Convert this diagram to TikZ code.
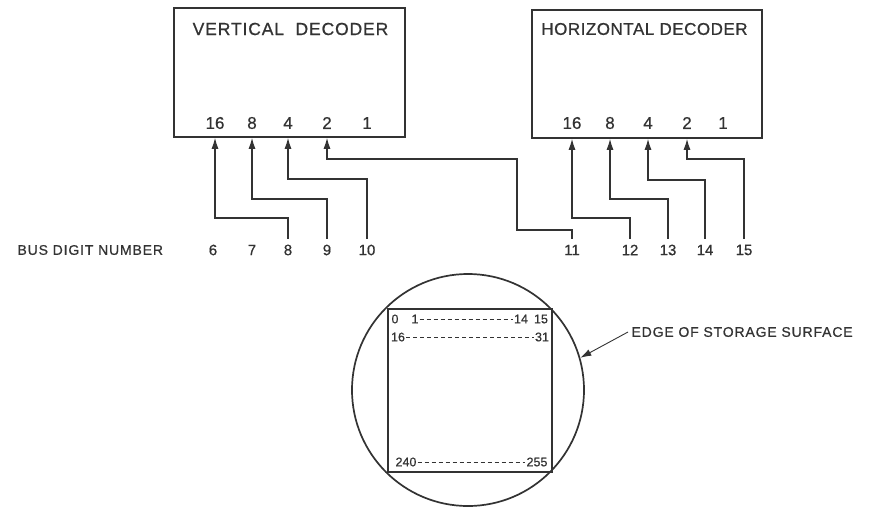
\documentclass[tikz,border=0pt]{standalone}
\usepackage{fontspec}
\setmainfont{Liberation Sans}[FakeBold=0.7]
\usetikzlibrary{arrows.meta}
\definecolor{ink}{gray}{0.2}
\tikzset{
  decbox/.style={draw=ink, line width=1.7pt, inner sep=0pt},
  title/.style={text=ink, font=\fontsize{17.5}{17.5}\selectfont\addfontfeature{LetterSpace=5}},
  digit/.style={text=ink, font=\fontsize{17}{17}\selectfont},
  busnum/.style={text=ink, inner sep=0pt, outer sep=6pt, font=\fontsize{15}{15}\selectfont},
  wire/.style={draw=ink, line width=1.1pt, -{Latex[length=11pt,width=7pt]}},
  cell/.style={text=ink, inner sep=1pt, font=\fontsize{12.5}{12.5}\selectfont},
  dots/.style={draw=ink, line width=0.9pt, dash pattern=on 4pt off 3pt},
  caption/.style={text=ink, font=\fontsize{14}{14}\selectfont\addfontfeature{LetterSpace=6}}
}
\begin{document}
\begin{tikzpicture}[x=1pt, y=-1pt]
  \useasboundingbox (0,0) rectangle (881,507);
  % decoders
  \node[decbox, minimum width=231pt, minimum height=129pt] (vdec) at (289.5,72.5) {};
  \node[title] (vtitle) at (290.5,29) {VERTICAL\ \ DECODER};
  \node[decbox, minimum width=230pt, minimum height=128pt] (hdec) at (647,74) {};
  \node[title, font=\fontsize{17}{17}\selectfont\addfontfeature{LetterSpace=3}] (htitle) at (644.5,29) {HORIZONTAL\ DECODER};
  \foreach \d/\x in {16/215, 8/252, 4/288, 2/327, 1/367} {
    \node[digit] (vd\d) at (\x,123) {\d};
    \coordinate (v\d) at (vd\d |- vdec.south);
  }
  \foreach \d/\x in {16/572, 8/610, 4/648, 2/687, 1/723} {
    \node[digit] (hd\d) at (\x,123) {\d};
    \coordinate (h\d) at (hd\d |- hdec.south);
  }
  % bus digits
  \node[caption, anchor=west] (buslbl) at (14,250) {BUS DIGIT NUMBER};
  \foreach \b/\x in {6/213, 7/252, 8/288, 9/327, 10/367, 11/572, 12/630, 13/668, 14/705, 15/744} {
    \node[busnum] (b\b) at (\x,250) {\b};
  }
  % wiring, bus digit up to decoder input
  \foreach \b/\p/\y in {8/v16/218, 9/v8/199, 10/v4/179, 12/h16/218, 13/h8/199, 14/h4/180, 15/h2/159} {
    \draw[wire] (b\b.north) |- (\p |- 0,\y) -- (\p);
  }
  \draw[wire] (b11.north) |- (517,230) -- (517,159) -| (v2);
  % storage surface
  \node[draw=ink, line width=1.7pt, circle, minimum size=232pt, inner sep=0pt] (disk) at (468,390) {};
  \node[draw=ink, line width=1.7pt, minimum width=164pt, minimum height=163pt, inner sep=0pt] (grid) at (470,390.5) {};
  \node[cell] (c0) at (395,319) {0};
  \node[cell] (c1) at (415,319) {1};
  \node[cell] (c14) at (521,319) {14};
  \node[cell] (c15) at (541,319) {15};
  \node[cell] (c16) at (398,337) {16};
  \node[cell] (c31) at (542,337) {31};
  \node[cell] (c240) at (406,462) {240};
  \node[cell] (c255) at (537,462) {255};
  \draw[dots] (c1.east) -- (c14.west);
  \draw[dots] (c16.east) -- (c31.west);
  \draw[dots] (c240.east) -- (c255.west);
  % pointer to the edge
  \node[caption, anchor=west] (edgelbl) at (628,332) {EDGE OF STORAGE SURFACE};
  \draw[wire, line width=0.9pt] (edgelbl.west) -- (disk.16);
\end{tikzpicture}
\end{document}
